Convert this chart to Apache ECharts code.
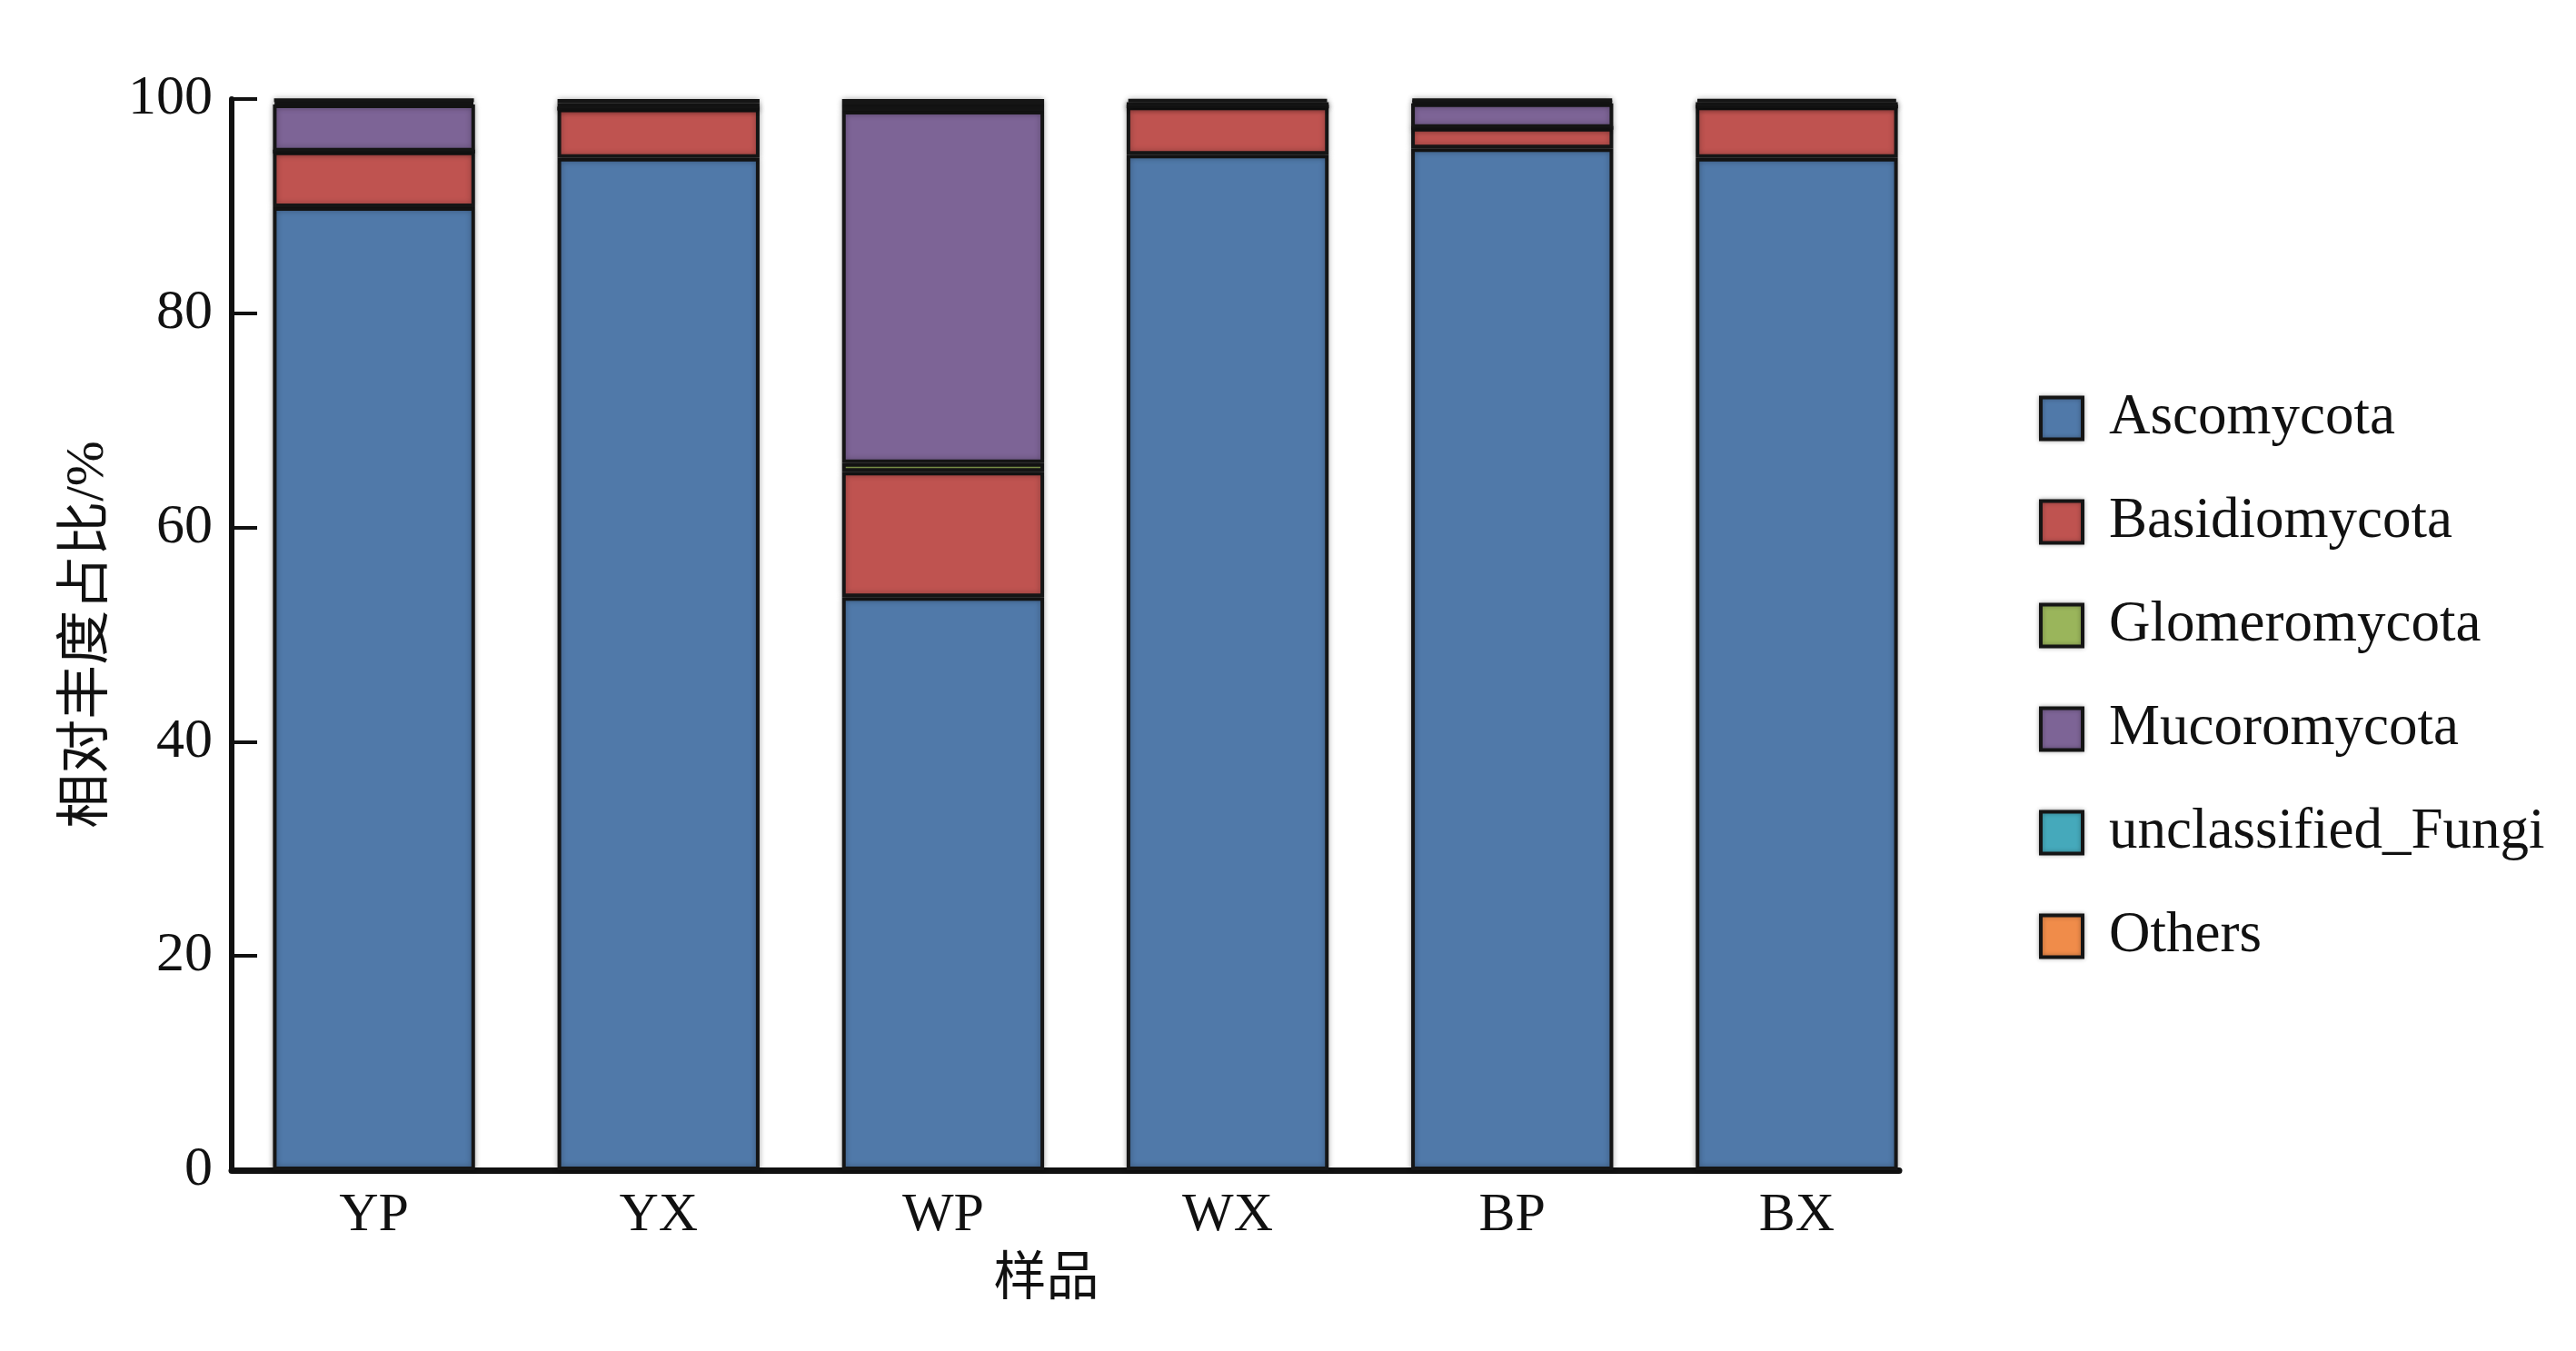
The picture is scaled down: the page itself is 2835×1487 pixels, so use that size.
<!DOCTYPE html>
<html>
<head>
<meta charset="utf-8">
<title>相对丰度</title>
<script src="https://cdn.jsdelivr.net/npm/echarts@6/dist/echarts.min.js"></script>
<style>
  html, body { margin: 0; padding: 0; background: #fff; }
  #main { width: 2835px; height: 1487px; }
</style>
</head>
<body>
<div id="main"></div>
<script>
"use strict";
/**样品**/
var samples = ["YP", "YX", "WP", "WX", "BP", "BX"];
/**门水平相对丰度 (%)**/
var ascomycota = [89.9, 94.5, 53.5, 94.8, 95.4, 94.5];
var basidiomycota = [5.2, 4.6, 11.7, 4.5, 1.9, 4.8];
var glomeromycota = [0, 0, 0.8, 0, 0, 0];
var mucoromycota = [4.4, 0, 32.9, 0, 2.3, 0];
var unclassifiedFungi = [0.3, 0.5, 0.6, 0.4, 0.2, 0.4];
var others = [0.2, 0.4, 0.5, 0.3, 0.2, 0.3];
var yTicks = [0, 20, 40, 60, 80, 100];

var phyla = [
  {name: "Ascomycota", data: ascomycota, color: "#5079a9"},
  {name: "Basidiomycota", data: basidiomycota, color: "#bf5350"},
  {name: "Glomeromycota", data: glomeromycota, color: "#9ab55b"},
  {name: "Mucoromycota", data: mucoromycota, color: "#7d6496"},
  {name: "unclassified_Fungi", data: unclassifiedFungi, color: "#45a9bb"},
  {name: "Others", data: others, color: "#f08c4a"}
];

var serif = "'Liberation Serif', 'Noto Sans CJK SC', serif";
var chart = echarts.init(document.getElementById("main"));

var series = phyla.map(function (p) {
  return {
    name: p.name,
    type: "bar",
    stack: "total",
    xAxisIndex: 0,
    yAxisIndex: 0,
    barWidth: "71%",
    data: p.data,
    itemStyle: {
      color: p.color,
      borderColor: "#151515",
      borderWidth: 4,
      shadowColor: "rgba(0,0,0,0.3)",
      shadowBlur: 6
    }
  };
});

chart.setOption({
  backgroundColor: "#fff",
  animation: false,
  // grid 0 holds the bars, grid 1 only draws the bottom axis line
  grid: [
    {left: 255, right: 701, top: 109, bottom: 199},
    {left: 255, right: 745, top: 109, bottom: 199}
  ],
  legend: {
    orient: "vertical",
    left: 2239,
    top: 424,
    itemWidth: 46,
    itemHeight: 46,
    itemGap: 51,
    icon: "rect",
    itemStyle: {
      borderColor: "#151515",
      borderWidth: 4,
      shadowColor: "rgba(0,0,0,0.3)",
      shadowBlur: 5
    },
    textStyle: {
      fontFamily: serif,
      fontSize: 63,
      color: "#111",
      padding: [0, 0, 0, 24]
    },
    data: phyla.map(function (p) { return p.name; })
  },
  xAxis: [
    {
      type: "category",
      gridIndex: 0,
      data: samples,
      boundaryGap: true,
      axisLine: {show: false},
      axisTick: {show: false},
      axisLabel: {
        margin: 20,
        fontFamily: serif,
        fontSize: 60,
        color: "#111"
      }
    },
    {
      type: "value",
      gridIndex: 1,
      min: 0,
      max: 1,
      name: "样品",
      nameLocation: "middle",
      nameGap: 93,
      nameTextStyle: {
        fontFamily: serif,
        fontSize: 58,
        color: "#111",
        padding: [0, 42, 0, 0]
      },
      axisLine: {show: true, lineStyle: {color: "#111", width: 7}},
      axisTick: {show: false},
      axisLabel: {show: false},
      splitLine: {show: false}
    }
  ],
  yAxis: [
    {
      type: "value",
      gridIndex: 0,
      min: yTicks[0],
      max: yTicks[yTicks.length - 1],
      interval: yTicks[1] - yTicks[0],
      name: "相对丰度占比/%",
      nameLocation: "middle",
      nameGap: 128,
      nameTextStyle: {
        fontFamily: serif,
        fontSize: 60,
        color: "#111"
      },
      axisLine: {show: true, lineStyle: {color: "#111", width: 6}},
      axisTick: {show: true, inside: true, length: 28, lineStyle: {color: "#111", width: 4}},
      axisLabel: {
        margin: 21,
        fontFamily: serif,
        fontSize: 62,
        color: "#111"
      },
      splitLine: {show: false}
    },
    {
      type: "value",
      gridIndex: 1,
      show: false
    }
  ],
  series: series
});
</script>
</body>
</html>
